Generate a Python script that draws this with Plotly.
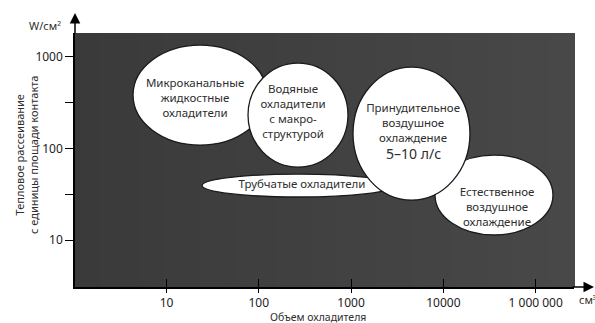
import plotly.graph_objects as go

# ---- data ----
regions = ["Микроканальные<br>жидкостные<br>охладители",
           "Трубчатые охладители",
           "Естественное<br>воздушное<br>охлаждение",
           "Водяные<br>охладители<br>с макро-<br>структурой",
           "Принудительное<br>воздушное<br>охлаждение"]
vol_min = [4.34, 24.3, 8110, 76.4, 1049]          # cm3
vol_max = [123, 2990, 153800, 925, 19400]
heat_min = [109, 29.6, 11.4, 62.8, 27.4]           # W/cm2
heat_max = [1345, 52.7, 84.9, 855, 774]
label_vol = [20.4, 294, 38100, 235, 4690]
label_heat = [347, 40, 22.4, 244, 185]

flow_note = ["5–10 л/с"]
flow_vol = [4750]
flow_heat = [84]

x_tickvals = [10, 100, 1000, 10000, 100000]
x_ticktext = ["10", "100", "1000", "10000", "1 000 000"]
y_tickvals = [10, 31.62, 100, 316.2, 1000]
y_ticktext = ["10", "", "100", "", "1000"]

FONT = "Noto Sans"
TXT = "#2e2e2e"

fig = go.Figure()

# background gradient strips
n = 40
shapes = []
for i in range(n):
    t = i / (n - 1)
    c = int(round(0x3a + t * (0x48 - 0x3a)))
    col = f"rgb({c},{c},{c})"
    shapes.append(dict(type="rect", xref="paper", yref="paper",
                       x0=i / n, x1=(i + 1) / n + 0.002, y0=0, y1=1,
                       fillcolor=col, line=dict(width=0), layer="below"))

for i in range(len(regions)):
    shapes.append(dict(type="circle", xref="x", yref="y",
                       x0=vol_min[i], x1=vol_max[i], y0=heat_min[i], y1=heat_max[i],
                       fillcolor="white", line=dict(color="#1a1a1a", width=1.3),
                       layer="below"))

fig.add_trace(go.Scatter(x=label_vol, y=label_heat, mode="text", text=regions,
                         textfont=dict(family=FONT, size=11.5, color=TXT),
                         textposition="middle center", hoverinfo="skip",
                         cliponaxis=False, showlegend=False))
fig.add_trace(go.Scatter(x=flow_vol, y=flow_heat, mode="text", text=flow_note,
                         textfont=dict(family=FONT, size=14, color=TXT),
                         textposition="middle center", hoverinfo="skip",
                         cliponaxis=False, showlegend=False))
# dummy trace for the overlay axis (inner tick marks)
fig.add_trace(go.Scatter(x=[10], y=[10], xaxis="x2", mode="markers",
                         marker=dict(opacity=0), hoverinfo="skip", showlegend=False))

xr = [0.0087, 5.415]
yr = [0.490, 3.260]

fig.update_layout(
    width=595, height=323,
    margin=dict(l=75, r=21, t=33, b=36),
    paper_bgcolor="white", plot_bgcolor="#424242",
    shapes=shapes,
    xaxis=dict(type="log", range=xr, tickvals=x_tickvals, ticktext=x_ticktext,
               ticks="outside", ticklen=4, tickwidth=1.2, tickcolor="black",
               showline=True, linecolor="black", linewidth=1.5,
               showgrid=False, zeroline=False,
               tickfont=dict(family=FONT, size=12, color="#222")),
    xaxis2=dict(type="log", range=xr, overlaying="x", matches="x", side="bottom",
                tickvals=x_tickvals, showticklabels=False,
                ticks="inside", ticklen=8, tickwidth=1.2, tickcolor="black",
                showline=False, showgrid=False, zeroline=False),
    yaxis=dict(type="log", range=yr, tickvals=y_tickvals, ticktext=y_ticktext,
               ticks="outside", ticklen=8, tickwidth=1.2, tickcolor="black",
               showline=True, linecolor="black", linewidth=1.5,
               showgrid=False, zeroline=False,
               tickfont=dict(family=FONT, size=12, color="#222")),
    annotations=[
        dict(xref="paper", yref="paper", x=0, y=1.079, ax=0, ay=22, text="",
             showarrow=True, arrowhead=2, arrowsize=1.4, arrowwidth=1.5,
             arrowcolor="black"),
        dict(xref="paper", yref="paper", x=1.042, y=0, ax=-24, ay=0, text="",
             showarrow=True, arrowhead=2, arrowsize=1.4, arrowwidth=1.5,
             arrowcolor="black"),
        dict(xref="paper", yref="paper", x=-0.096, y=0.52,
             xanchor="center", yanchor="middle",
             text="Тепловое рассеивание<br>с единицы площади контакта",
             textangle=-90, showarrow=False,
             font=dict(family=FONT, size=11, color=TXT)),
        dict(xref="paper", yref="paper", x=0.487, y=-0.117,
             xanchor="center", yanchor="middle",
             text="Объем охладителя", showarrow=False,
             font=dict(family=FONT, size=10.5, color=TXT)),
        dict(xref="paper", yref="paper", x=-0.024, y=1.028,
             xanchor="right", yanchor="middle",
             text="W/см²", showarrow=False,
             font=dict(family=FONT, size=11, color=TXT)),
        dict(xref="paper", yref="paper", x=1.006, y=-0.051,
             xanchor="left", yanchor="middle",
             text="см³", showarrow=False,
             font=dict(family=FONT, size=11, color=TXT)),
    ],
)

fig.write_html("out.html", config={"displayModeBar": False},
               post_script="document.body.style.margin='0';document.body.style.padding='0';")
